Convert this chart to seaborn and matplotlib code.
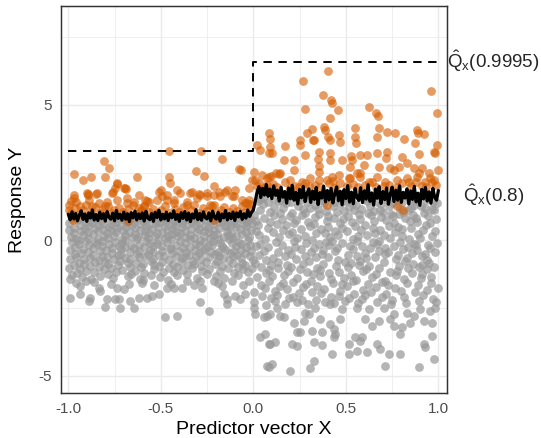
import numpy as np
import pandas as pd
import seaborn as sns
import matplotlib.pyplot as plt

# puntos por debajo del cuantil 0.8 (gris), banda densa x < 0
grey_left = [
    (-0.996, 0.62), (-0.991, -0.35), (-0.985, 0.12), (-0.998, -1.02), (-0.982, 0.81), (-0.989, -0.71), (-0.978, -0.08), (-0.994, 0.38), (-0.980, -1.28),
    (-0.971, 0.45), (-0.966, -0.52), (-0.958, 0.05), (-0.969, -0.91), (-0.955, 0.74), (-0.962, -0.24), (-0.953, -1.21), (-0.967, 0.27), (-0.957, -0.63),
    (-0.946, 0.79), (-0.941, -0.15), (-0.933, 0.33), (-0.944, -0.84), (-0.930, -0.46), (-0.937, 0.58), (-0.928, -1.36), (-0.942, 0.02), (-0.935, -1.05),
    (-0.921, 0.18), (-0.916, -0.69), (-0.908, 0.66), (-0.919, -0.31), (-0.905, -1.12), (-0.912, 0.41), (-0.903, -0.02), (-0.917, -0.87), (-0.910, 0.83),
    (-0.896, -0.43), (-0.891, 0.51), (-0.883, -0.96), (-0.894, 0.09), (-0.880, 0.72), (-0.887, -0.19), (-0.878, -1.44), (-0.892, 0.30), (-0.885, -0.66),
    (-0.871, 0.64), (-0.866, -0.28), (-0.858, -0.81), (-0.869, 0.22), (-0.855, -0.05), (-0.862, -1.17), (-0.853, 0.47), (-0.867, -0.55), (-0.860, 0.85),
    (-0.846, -0.12), (-0.841, 0.35), (-0.833, -0.74), (-0.844, 0.77), (-0.830, -1.31), (-0.837, 0.04), (-0.828, -0.40), (-0.842, 0.56), (-0.835, -0.99),
    (-0.821, 0.70), (-0.816, -0.58), (-0.808, 0.14), (-0.819, -0.23), (-0.805, -1.06), (-0.812, 0.43), (-0.803, -0.79), (-0.817, -0.01), (-0.810, 0.61),
    (-0.796, -0.37), (-0.791, 0.26), (-0.783, -0.89), (-0.794, 0.82), (-0.780, -0.14), (-0.787, -1.25), (-0.778, 0.50), (-0.792, -0.61), (-0.785, 0.08),
    (-0.771, 0.39), (-0.766, -0.47), (-0.758, 0.75), (-0.769, -1.01), (-0.755, 0.16), (-0.762, -0.29), (-0.753, -0.70), (-0.767, 0.59), (-0.760, -1.39),
    (-0.746, -0.08), (-0.741, 0.68), (-0.733, -0.56), (-0.744, 0.29), (-0.730, -0.93), (-0.737, 0.84), (-0.728, -0.21), (-0.742, -1.18), (-0.735, 0.46),
    (-0.721, 0.57), (-0.716, -0.33), (-0.708, 0.03), (-0.719, -0.77), (-0.705, 0.80), (-0.712, -1.09), (-0.703, 0.34), (-0.717, -0.50), (-0.710, -0.11),
    (-0.696, -0.64), (-0.691, 0.21), (-0.683, 0.73), (-0.694, -0.26), (-0.680, -1.33), (-0.687, 0.49), (-0.678, -0.85), (-0.692, 0.00), (-0.685, 0.63),
    (-0.671, 0.31), (-0.666, -0.42), (-0.658, 0.86), (-0.669, -0.97), (-0.655, 0.11), (-0.662, -0.18), (-0.653, 0.55), (-0.667, -0.71), (-0.660, -1.24),
    (-0.646, -0.30), (-0.641, 0.44), (-0.633, -0.83), (-0.644, 0.69), (-0.630, 0.06), (-0.637, -1.14), (-0.628, -0.52), (-0.642, 0.24), (-0.635, 0.78),
    (-0.621, 0.13), (-0.616, -0.61), (-0.608, 0.60), (-0.619, -0.16), (-0.605, -1.00), (-0.612, 0.38), (-0.603, 0.82), (-0.617, -0.38), (-0.610, -1.42),
    (-0.596, 0.71), (-0.591, -0.25), (-0.583, 0.19), (-0.594, -0.88), (-0.580, 0.52), (-0.587, -0.57), (-0.578, -0.04), (-0.592, -1.20), (-0.585, 0.36),
    (-0.571, -0.49), (-0.566, 0.58), (-0.558, -0.10), (-0.569, 0.84), (-0.555, -0.76), (-0.562, 0.27), (-0.553, -1.27), (-0.567, 0.07), (-0.560, -0.35),
    (-0.546, 0.40), (-0.541, -0.68), (-0.533, 0.76), (-0.544, -0.20), (-0.530, 0.15), (-0.537, -1.08), (-0.528, 0.63), (-0.542, -0.44), (-0.535, -0.90),
    (-0.521, -0.13), (-0.516, 0.50), (-0.508, -0.95), (-0.519, 0.25), (-0.505, 0.81), (-0.512, -0.53), (-0.503, -1.35), (-0.517, 0.01), (-0.510, 0.67),
    (-0.496, 0.28), (-0.491, -0.39), (-0.483, 0.85), (-0.494, -0.79), (-0.480, 0.10), (-0.487, -1.16), (-0.478, 0.54), (-0.492, -0.22), (-0.485, -0.60),
    (-0.471, 0.66), (-0.466, -0.06), (-0.458, -0.72), (-0.469, 0.37), (-0.455, -1.04), (-0.462, 0.17), (-0.453, -0.32), (-0.467, 0.79), (-0.460, -1.47),
    (-0.446, -0.27), (-0.441, 0.42), (-0.433, -0.86), (-0.444, 0.04), (-0.430, 0.72), (-0.437, -0.46), (-0.428, -1.19), (-0.442, 0.23), (-0.435, 0.59),
    (-0.421, 0.52), (-0.416, -0.59), (-0.408, 0.14), (-0.419, -0.17), (-0.405, 0.83), (-0.412, -0.98), (-0.403, -0.40), (-0.417, 0.32), (-0.410, -1.30),
    (-0.396, -0.03), (-0.391, 0.74), (-0.383, -0.66), (-0.394, 0.26), (-0.380, -1.10), (-0.387, 0.48), (-0.378, -0.29), (-0.392, -0.82), (-0.385, 0.65),
    (-0.371, 0.35), (-0.366, -0.45), (-0.358, 0.80), (-0.369, -0.09), (-0.355, -0.92), (-0.362, 0.12), (-0.353, 0.61), (-0.367, -0.63), (-0.360, -1.23),
    (-0.346, -0.54), (-0.341, 0.20), (-0.333, 0.69), (-0.344, -0.24), (-0.330, -1.02), (-0.337, 0.43), (-0.328, -0.75), (-0.342, 0.05), (-0.335, 0.84),
    (-0.321, 0.09), (-0.316, -0.36), (-0.308, 0.57), (-0.319, -0.87), (-0.305, 0.30), (-0.312, -0.14), (-0.303, -1.40), (-0.317, 0.77), (-0.310, -0.58),
    (-0.296, 0.63), (-0.291, -0.19), (-0.283, -0.70), (-0.294, 0.40), (-0.280, -1.13), (-0.287, 0.02), (-0.278, 0.82), (-0.292, -0.48), (-0.285, -0.95),
    (-0.271, -0.41), (-0.266, 0.33), (-0.258, 0.75), (-0.269, -0.07), (-0.255, -0.80), (-0.262, 0.53), (-0.253, -1.26), (-0.267, 0.16), (-0.260, -0.31),
    (-0.246, 0.47), (-0.241, -0.62), (-0.233, 0.08), (-0.244, -0.23), (-0.230, 0.71), (-0.237, -1.07), (-0.228, -0.44), (-0.242, 0.29), (-0.235, 0.86),
    (-0.221, -0.16), (-0.216, 0.60), (-0.208, -0.89), (-0.219, 0.19), (-0.205, -0.51), (-0.212, 0.81), (-0.203, -1.33), (-0.217, -0.04), (-0.210, 0.39),
    (-0.196, 0.24), (-0.191, -0.43), (-0.183, 0.67), (-0.194, -0.78), (-0.180, -0.11), (-0.187, 0.45), (-0.178, -1.15), (-0.192, 0.03), (-0.185, -0.57),
    (-0.171, 0.70), (-0.166, -0.28), (-0.158, 0.13), (-0.169, -0.96), (-0.155, 0.54), (-0.162, -0.65), (-0.153, 0.85), (-0.167, -0.20), (-0.160, -1.38),
    (-0.146, -0.35), (-0.141, 0.36), (-0.133, -0.74), (-0.144, 0.79), (-0.130, 0.06), (-0.137, -1.03), (-0.128, -0.47), (-0.142, 0.51), (-0.135, 0.18),
    (-0.121, 0.58), (-0.116, -0.10), (-0.108, -0.83), (-0.119, 0.27), (-0.105, -0.38), (-0.112, 0.73), (-0.103, -1.21), (-0.117, 0.10), (-0.110, -0.60),
    (-0.096, -0.22), (-0.091, 0.49), (-0.083, -0.99), (-0.094, 0.15), (-0.080, 0.83), (-0.087, -0.53), (-0.078, -0.05), (-0.092, 0.64), (-0.085, -1.29),
    (-0.071, 0.41), (-0.066, -0.67), (-0.058, 0.78), (-0.069, -0.13), (-0.055, -1.06), (-0.062, 0.22), (-0.053, 0.60), (-0.067, -0.37), (-0.060, -0.84),
    (-0.046, -0.48), (-0.041, 0.32), (-0.033, 0.69), (-0.044, -0.90), (-0.030, 0.00), (-0.037, -0.26), (-0.028, -1.18), (-0.042, 0.52), (-0.035, 0.84),
    (-0.021, 0.11), (-0.016, -0.58), (-0.008, 0.63), (-0.019, -0.19), (-0.005, -1.01), (-0.012, 0.37), (-0.003, -0.72), (-0.017, 0.80), (-0.010, -0.41),
]

# valores aislados por debajo de la banda, x < 0
grey_left_tail = [
    (-0.989, -1.44), (-0.989, -2.12), (-0.935, -1.69), (-0.935, -1.99), (-0.881, -2.12), (-0.890, -2.24), (-0.836, -1.75),
    (-0.827, -1.87), (-0.791, -2.18), (-0.800, -2.45), (-0.746, -2.18), (-0.728, -2.18), (-0.737, -1.75), (-0.719, -2.49),
    (-0.701, -1.81), (-0.674, -1.63), (-0.665, -2.24), (-0.647, -2.49), (-0.620, -2.12), (-0.575, -2.12), (-0.548, -2.06),
    (-0.512, -2.00), (-0.476, -2.85), (-0.467, -1.75), (-0.431, -1.75), (-0.413, -2.79), (-0.385, -1.75), (-0.358, -1.51),
    (-0.286, -2.30), (-0.286, -1.51), (-0.277, -1.75), (-0.241, -2.61), (-0.215, -1.51), (-0.169, -1.69), (-0.161, -2.00),
    (-0.142, -2.18), (-0.142, -2.36), (-0.115, -1.51), (-0.097, -2.06), (-0.070, -2.18), (-0.043, -2.00), (-0.025, -1.51),
    (-0.958, -1.58), (-0.862, -1.55), (-0.771, -1.62), (-0.603, -1.57), (-0.536, -1.66), (-0.447, -1.60), (-0.318, -1.64),
    (-0.192, -1.57), (-0.058, -1.66), (-0.596, -1.48), (-0.905, -1.52),
]

# banda densa x > 0
grey_right = [
    (0.004, 0.92), (0.009, -0.83), (0.017, 0.36), (0.006, -1.92), (0.024, 1.44), (0.012, -0.21), (0.021, -1.37), (0.015, 0.71), (0.003, -2.28),
    (0.029, -0.55), (0.034, 1.12), (0.041, -1.64), (0.031, 0.18), (0.046, -2.05), (0.038, 1.51), (0.044, -0.97), (0.027, 0.55), (0.036, -0.12),
    (0.054, 1.33), (0.059, -0.38), (0.066, -1.21), (0.056, 0.84), (0.071, -2.39), (0.063, 0.05), (0.069, -0.74), (0.052, 1.57), (0.061, -1.78),
    (0.079, 0.47), (0.084, -1.49), (0.091, 1.06), (0.081, -0.26), (0.096, -2.12), (0.088, 0.69), (0.094, -0.90), (0.077, 1.41), (0.086, -1.10),
    (0.104, -0.66), (0.109, 1.24), (0.116, -1.87), (0.106, 0.29), (0.121, -0.07), (0.113, 0.95), (0.119, -2.26), (0.102, -1.31), (0.111, 1.53),
    (0.129, 0.61), (0.134, -1.03), (0.141, 1.45), (0.131, -0.44), (0.146, -1.70), (0.138, 0.13), (0.144, 1.01), (0.127, -2.02), (0.136, -0.81),
    (0.154, -0.17), (0.159, 1.19), (0.166, -1.28), (0.156, 0.79), (0.171, -2.34), (0.163, 0.38), (0.169, -0.60), (0.152, 1.50), (0.161, -1.59),
    (0.179, 1.36), (0.184, -0.93), (0.191, 0.22), (0.181, -1.81), (0.196, 0.88), (0.188, -0.35), (0.194, -2.15), (0.177, 0.57), (0.186, -1.14),
    (0.204, -0.49), (0.209, 0.99), (0.216, -1.56), (0.206, 1.42), (0.221, -0.03), (0.213, -2.08), (0.219, 0.64), (0.202, -1.00), (0.211, 0.31),
    (0.229, 0.74), (0.234, -1.39), (0.241, 1.28), (0.231, -0.70), (0.246, -1.95), (0.238, 0.09), (0.244, 1.55), (0.227, -0.24), (0.236, -2.30),
    (0.254, -1.06), (0.259, 0.43), (0.266, 1.14), (0.256, -0.31), (0.271, -1.74), (0.263, 0.93), (0.269, -0.86), (0.252, 1.47), (0.261, -2.19),
    (0.279, 0.16), (0.284, -1.62), (0.291, 1.40), (0.281, -0.58), (0.296, 0.67), (0.288, -1.17), (0.294, -2.37), (0.277, 1.02), (0.286, -0.09),
    (0.304, 1.18), (0.309, -0.45), (0.316, -1.91), (0.306, 0.52), (0.321, -1.26), (0.313, 1.52), (0.319, 0.02), (0.302, -0.77), (0.311, -1.52),
    (0.329, -0.28), (0.334, 0.86), (0.341, -2.22), (0.331, 1.31), (0.346, -1.01), (0.338, 0.25), (0.344, -1.68), (0.327, 0.60), (0.336, -0.63),
    (0.354, 0.97), (0.359, -1.33), (0.366, 0.40), (0.356, -0.15), (0.371, 1.49), (0.363, -1.96), (0.369, -0.52), (0.352, 1.16), (0.361, -1.11),
    (0.379, -0.88), (0.384, 1.37), (0.391, -0.05), (0.381, -1.80), (0.396, 0.72), (0.388, -2.27), (0.394, 1.09), (0.377, -0.36), (0.386, 0.28),
    (0.404, 0.50), (0.409, -1.22), (0.416, 1.56), (0.406, -0.61), (0.421, -2.10), (0.413, 0.11), (0.419, -1.44), (0.402, 0.90), (0.411, -0.19),
    (0.429, -1.57), (0.434, 0.81), (0.441, -0.40), (0.431, 1.25), (0.446, -0.96), (0.438, -2.33), (0.444, 0.35), (0.427, -0.02), (0.436, 1.43),
    (0.454, 1.03), (0.459, -0.72), (0.466, -1.86), (0.456, 0.20), (0.471, 1.35), (0.463, -1.19), (0.469, 0.63), (0.452, -0.29), (0.461, -2.06),
    (0.479, -0.11), (0.484, 1.50), (0.491, -1.41), (0.481, 0.46), (0.496, -0.80), (0.488, 1.07), (0.494, -2.25), (0.477, -1.63), (0.486, 0.77),
    (0.504, 0.33), (0.509, -0.99), (0.516, 1.22), (0.506, -1.70), (0.521, -0.23), (0.513, 0.89), (0.519, -2.14), (0.502, 1.46), (0.511, -0.54),
    (0.529, -1.29), (0.534, 0.66), (0.541, -0.34), (0.531, 1.39), (0.546, -1.99), (0.538, 0.04), (0.544, 1.13), (0.527, -0.85), (0.536, -1.51),
    (0.554, 1.30), (0.559, -0.57), (0.566, 0.14), (0.556, -1.46), (0.571, 0.98), (0.563, -2.32), (0.569, -0.91), (0.552, 0.54), (0.561, -0.04),
    (0.579, -0.76), (0.584, 1.17), (0.591, -1.83), (0.581, 0.39), (0.596, 1.54), (0.588, -0.20), (0.594, -1.15), (0.577, 0.80), (0.586, -2.18),
    (0.604, 0.58), (0.609, -1.08), (0.616, 1.44), (0.606, -0.47), (0.621, -1.61), (0.613, 0.19), (0.619, 1.01), (0.602, -2.03), (0.611, -0.66),
    (0.629, -0.30), (0.634, 0.94), (0.641, -1.37), (0.631, 1.27), (0.646, -0.08), (0.638, -1.90), (0.644, 0.47), (0.627, -0.95), (0.636, 1.52),
    (0.654, 1.09), (0.659, -0.62), (0.666, -2.28), (0.656, 0.26), (0.671, 1.40), (0.663, -1.24), (0.669, -0.13), (0.652, 0.70), (0.661, -1.73),
    (0.679, -1.02), (0.684, 0.37), (0.691, 1.33), (0.681, -0.39), (0.696, -1.54), (0.688, 0.85), (0.694, -2.09), (0.677, -0.01), (0.686, 1.12),
    (0.704, 0.21), (0.709, -1.49), (0.716, 0.76), (0.706, -0.82), (0.721, 1.47), (0.713, -0.27), (0.719, -1.97), (0.702, 1.05), (0.711, -0.50),
    (0.729, -0.42), (0.734, 1.26), (0.741, -1.18), (0.731, 0.53), (0.746, -2.36), (0.738, 0.07), (0.744, 0.96), (0.727, -1.66), (0.736, 1.55),
    (0.754, 0.88), (0.759, -0.20), (0.766, -1.77), (0.756, 1.36), (0.771, -0.69), (0.763, 0.30), (0.769, -1.30), (0.752, -2.20), (0.761, 0.62),
    (0.779, -1.12), (0.784, 0.49), (0.791, 1.20), (0.781, -0.55), (0.796, -1.88), (0.788, 0.98), (0.794, -0.06), (0.777, 1.48), (0.786, -0.94),
    (0.804, 1.41), (0.809, -0.33), (0.816, -1.45), (0.806, 0.15), (0.821, 0.83), (0.813, -2.11), (0.819, -0.78), (0.802, 0.42), (0.811, 1.06),
    (0.829, -0.64), (0.834, 1.13), (0.841, 0.03), (0.831, -1.58), (0.846, 0.71), (0.838, -1.03), (0.844, 1.53), (0.827, -2.31), (0.836, -0.25),
    (0.854, 0.44), (0.859, -1.20), (0.866, 1.32), (0.856, -0.46), (0.871, -1.93), (0.863, 0.92), (0.869, -0.14), (0.852, 1.19), (0.861, -0.88),
    (0.879, -0.18), (0.884, 0.67), (0.891, -1.67), (0.881, 1.46), (0.896, -0.99), (0.888, 0.24), (0.894, -2.24), (0.877, 0.82), (0.886, -0.37),
    (0.904, 1.27), (0.909, -0.91), (0.916, 0.38), (0.906, -1.41), (0.921, 1.00), (0.913, -0.59), (0.919, -2.01), (0.902, 0.10), (0.911, -1.25),
    (0.929, -0.51), (0.934, 1.50), (0.941, -1.08), (0.931, 0.56), (0.946, -0.16), (0.938, -1.84), (0.944, 0.89), (0.927, 1.21), (0.936, -0.73),
    (0.954, 0.65), (0.959, -1.35), (0.966, 1.16), (0.956, -0.28), (0.971, -2.17), (0.963, 0.17), (0.969, 1.42), (0.952, -0.84), (0.961, -1.59),
    (0.979, -0.97), (0.984, 0.34), (0.991, 1.38), (0.981, -0.43), (0.996, -1.76), (0.988, 0.79), (0.994, -0.10), (0.977, 1.11), (0.986, -2.29),
]

grey_right_tail = [
    (0.002, -2.49), (0.010, -2.73), (0.038, -3.59), (0.065, -3.47), (0.083, -3.83), (0.074, -4.63), (0.074, -2.79),
    (0.056, -2.85), (0.092, -3.83), (0.119, -3.77), (0.083, -4.69), (0.101, -4.57), (0.146, -2.79), (0.164, -2.85),
    (0.200, -4.85), (0.209, -3.83), (0.236, -3.90), (0.218, -3.04), (0.236, -3.40), (0.254, -3.40), (0.272, -2.98),
    (0.299, -2.73), (0.317, -3.35), (0.326, -3.77), (0.326, -4.45), (0.308, -4.73), (0.371, -3.40), (0.371, -3.87),
    (0.362, -2.92), (0.416, -3.10), (0.425, -4.20), (0.434, -3.28), (0.443, -3.47), (0.434, -3.59), (0.470, -2.92),
    (0.515, -3.83), (0.515, -4.20), (0.551, -3.59), (0.561, -4.08), (0.588, -3.59), (0.578, -3.71), (0.615, -4.12),
    (0.605, -2.92), (0.642, -3.16), (0.677, -2.98), (0.669, -3.83), (0.686, -4.02), (0.714, -4.63), (0.731, -4.20),
    (0.741, -2.92), (0.758, -3.16), (0.795, -4.20), (0.804, -3.22), (0.795, -3.47), (0.849, -3.04), (0.867, -2.79),
    (0.894, -4.69), (0.921, -3.83), (0.930, -3.96), (0.921, -2.98), (0.966, -3.53), (0.966, -3.04), (0.975, -4.39),
    (0.984, -2.49), (0.957, -2.61), (0.903, -2.55), (0.831, -2.67), (0.758, -2.73), (0.704, -2.49), (0.623, -2.55),
    (0.561, -2.49), (0.479, -2.55), (0.416, -2.36), (0.335, -2.49), (0.281, -2.67), (0.092, -2.73), (0.128, -2.52),
]

# puntos por encima del cuantil 0.8 (naranja)
orange_left = [
    (-0.458, 3.31), (-0.281, 3.31), (-0.169, 2.99), (-0.805, 2.94), (-0.778, 2.68), (-0.968, 2.44), (-0.923, 2.23),
    (-0.877, 2.35), (-0.800, 2.35), (-0.629, 2.33), (-0.458, 2.35), (-0.449, 2.11), (-0.308, 2.57), (-0.265, 2.38),
    (-0.076, 2.62), (-0.068, 2.60), (-0.215, 2.01), (-0.737, 2.07), (-0.692, 1.94), (-0.686, 1.90), (-0.895, 1.72),
    (-0.892, 1.66), (-0.971, 1.57), (-0.985, 1.45), (-0.845, 1.76), (-0.764, 1.74), (-0.746, 1.93), (-0.683, 1.37),
    (-0.584, 1.47), (-0.575, 1.44), (-0.508, 1.80), (-0.494, 1.62), (-0.395, 1.74), (-0.467, 1.50), (-0.431, 1.50),
    (-0.341, 1.74), (-0.296, 1.71), (-0.287, 1.66), (-0.250, 1.62), (-0.215, 1.68), (-0.188, 1.80), (-0.142, 1.86),
    (-0.106, 1.62), (-0.022, 1.50), (-0.018, 1.35), (-0.043, 1.37), (-0.232, 1.31), (-0.358, 1.31), (-0.620, 1.19),
    (-0.606, 1.12), (-0.800, 1.25), (-0.737, 1.50), (-0.935, 1.25), (-0.998, 1.31), (-0.971, 1.68), (-0.957, 1.43),
    (-0.995, 1.13), (-0.899, 1.74), (-0.890, 1.50), (-0.852, 1.70), (-0.872, 1.25), (-0.836, 1.37), (-0.791, 1.43),
    (-0.758, 1.80), (-0.737, 2.11), (-0.701, 1.93), (-0.683, 1.56), (-0.647, 1.43), (-0.620, 1.68), (-0.593, 1.25),
    (-0.566, 1.43), (-0.521, 1.50), (-0.501, 1.84), (-0.467, 1.68), (-0.431, 1.37), (-0.413, 1.86), (-0.358, 1.43),
    (-0.334, 1.78), (-0.304, 1.56), (-0.250, 1.74), (-0.215, 1.31), (-0.178, 1.62), (-0.151, 1.80), (-0.115, 1.62),
    (-0.097, 1.86), (-0.061, 1.50), (-0.034, 1.37), (-0.007, 2.23), (-0.025, 1.93),
    (-0.985, 1.02), (-0.962, 1.18), (-0.941, 0.98), (-0.918, 1.12), (-0.903, 1.31), (-0.877, 1.05), (-0.858, 1.22),
    (-0.829, 1.01), (-0.812, 1.15), (-0.788, 1.28), (-0.771, 0.99), (-0.752, 1.10), (-0.724, 1.21), (-0.706, 1.03),
    (-0.675, 1.14), (-0.651, 1.30), (-0.633, 0.98), (-0.608, 1.09), (-0.589, 1.26), (-0.563, 1.04), (-0.541, 1.17),
    (-0.522, 0.99), (-0.497, 1.12), (-0.476, 1.28), (-0.455, 1.02), (-0.426, 1.15), (-0.402, 1.06), (-0.381, 1.24),
    (-0.364, 0.98), (-0.337, 1.13), (-0.318, 1.32), (-0.293, 1.01), (-0.271, 1.19), (-0.248, 1.07), (-0.226, 1.27),
    (-0.197, 1.00), (-0.174, 1.13), (-0.156, 1.24), (-0.131, 1.03), (-0.112, 1.18), (-0.089, 1.09), (-0.063, 1.26),
    (-0.047, 1.05), (-0.018, 1.16), (-0.975, 0.74), (-0.680, 0.72), (-0.215, 0.75),
]

orange_right = [
    (0.402, 6.24), (0.266, 5.87), (0.962, 5.51), (0.377, 5.38), (0.419, 5.17), (0.424, 5.07), (0.281, 4.84),
    (0.456, 4.83), (0.627, 4.93), (0.665, 4.70), (0.676, 4.60), (0.993, 4.71), (0.416, 4.50), (0.317, 4.13),
    (0.381, 4.19), (0.387, 4.08), (0.551, 4.15), (0.677, 4.15), (0.723, 3.99), (0.887, 4.08), (0.892, 3.95),
    (0.921, 3.91), (0.768, 3.97), (0.254, 3.70), (0.254, 3.52), (0.290, 3.95), (0.321, 3.70), (0.329, 3.70),
    (0.404, 3.82), (0.414, 3.70), (0.461, 3.89), (0.470, 3.64), (0.551, 3.82), (0.556, 3.58), (0.669, 3.82),
    (0.813, 3.76), (0.876, 3.58), (0.084, 3.95), (0.090, 3.76), (0.092, 3.46), (0.020, 3.52), (0.038, 3.33),
    (0.083, 3.24), (0.101, 3.21), (0.173, 3.49), (0.218, 2.97), (0.281, 3.15), (0.353, 3.27), (0.416, 3.21),
    (0.528, 3.11), (0.533, 2.97), (0.578, 3.15), (0.615, 3.15), (0.669, 3.21), (0.723, 3.27), (0.804, 3.09),
    (0.894, 3.18), (0.975, 3.28), (0.992, 3.52), (0.984, 3.21), (0.164, 2.97), (0.351, 2.99), (0.357, 2.74),
    (0.416, 2.97), (0.479, 2.97), (0.524, 2.72), (0.561, 2.48), (0.596, 2.78), (0.677, 2.72), (0.718, 3.05),
    (0.741, 2.66), (0.786, 2.72), (0.831, 2.85), (0.867, 2.66), (0.912, 2.66), (0.948, 2.48), (0.998, 2.60),
    (0.141, 2.45), (0.124, 2.50), (0.200, 2.23), (0.072, 2.30), (0.085, 2.35), (0.010, 2.23), (0.047, 2.42),
    (0.263, 2.17), (0.308, 2.29), (0.353, 2.23), (0.398, 2.23), (0.425, 2.35), (0.461, 2.42), (0.515, 2.29),
    (0.578, 2.35), (0.623, 2.17), (0.669, 2.35), (0.714, 2.17), (0.777, 2.23), (0.839, 2.17), (0.885, 2.35),
    (0.930, 2.17), (0.975, 2.23), (0.002, 2.54), (0.097, 2.38), (0.146, 2.48), (0.218, 2.60), (0.353, 2.54),
    (0.430, 2.20), (0.520, 2.31), (0.578, 2.48), (0.758, 2.60), (0.831, 2.29), (0.894, 2.48), (0.957, 2.29),
    (0.020, 1.99), (0.074, 2.05), (0.200, 1.93), (0.299, 1.99), (0.407, 2.11), (0.506, 1.99), (0.605, 2.05),
    (0.704, 1.99), (0.804, 2.11), (0.912, 1.99), (0.966, 2.17), (0.398, 1.31), (0.777, 1.25), (0.810, 1.13),
    (0.032, 2.12), (0.061, 1.98), (0.105, 2.08), (0.129, 1.95), (0.171, 2.15), (0.226, 2.02), (0.248, 1.96),
    (0.277, 2.10), (0.333, 2.06), (0.362, 1.97), (0.443, 1.94), (0.467, 2.13), (0.538, 2.08), (0.566, 1.96),
    (0.641, 2.14), (0.662, 1.97), (0.731, 2.06), (0.779, 1.95), (0.852, 2.01), (0.878, 2.16), (0.933, 1.98),
    (0.987, 2.04),
]

# cuantil estimado 0.8
q08_x = [
    -1.00, -0.99, -0.98, -0.97, -0.96, -0.95, -0.94, -0.93, -0.92, -0.91,
    -0.90, -0.89, -0.88, -0.87, -0.86, -0.85, -0.84, -0.83, -0.82, -0.81,
    -0.80, -0.79, -0.78, -0.77, -0.76, -0.75, -0.74, -0.73, -0.72, -0.71,
    -0.70, -0.69, -0.68, -0.67, -0.66, -0.65, -0.64, -0.63, -0.62, -0.61,
    -0.60, -0.59, -0.58, -0.57, -0.56, -0.55, -0.54, -0.53, -0.52, -0.51,
    -0.50, -0.49, -0.48, -0.47, -0.46, -0.45, -0.44, -0.43, -0.42, -0.41,
    -0.40, -0.39, -0.38, -0.37, -0.36, -0.35, -0.34, -0.33, -0.32, -0.31,
    -0.30, -0.29, -0.28, -0.27, -0.26, -0.25, -0.24, -0.23, -0.22, -0.21,
    -0.20, -0.19, -0.18, -0.17, -0.16, -0.15, -0.14, -0.13, -0.12, -0.11,
    -0.10, -0.09, -0.08, -0.07, -0.06, -0.05, -0.04, -0.03, -0.02, -0.01,
    0.00, 0.01, 0.02,
    0.03, 0.04, 0.05, 0.06, 0.07, 0.08, 0.09, 0.10, 0.11, 0.12,
    0.13, 0.14, 0.15, 0.16, 0.17, 0.18, 0.19, 0.20, 0.21, 0.22,
    0.23, 0.24, 0.25, 0.26, 0.27, 0.28, 0.29, 0.30, 0.31, 0.32,
    0.33, 0.34, 0.35, 0.36, 0.37, 0.38, 0.39, 0.40, 0.41, 0.42,
    0.43, 0.44, 0.45, 0.46, 0.47, 0.48, 0.49, 0.50, 0.51, 0.52,
    0.53, 0.54, 0.55, 0.56, 0.57, 0.58, 0.59, 0.60, 0.61, 0.62,
    0.63, 0.64, 0.65, 0.66, 0.67, 0.68, 0.69, 0.70, 0.71, 0.72,
    0.73, 0.74, 0.75, 0.76, 0.77, 0.78, 0.79, 0.80, 0.81, 0.82,
    0.83, 0.84, 0.85, 0.86, 0.87, 0.88, 0.89, 0.90, 0.91, 0.92,
    0.93, 0.94, 0.95, 0.96, 0.97, 0.98, 0.99, 1.00,
]
q08_y = [
    0.96, 0.76, 1.05, 0.79, 0.99, 0.72, 0.93, 1.09, 0.77, 0.97,
    0.70, 1.01, 0.82, 1.12, 0.75, 0.95, 0.73, 1.04, 0.80, 0.98,
    0.71, 1.06, 0.85, 0.78, 1.00, 0.72, 1.10, 0.81, 0.96, 0.74,
    1.04, 0.78, 0.98, 0.69, 1.02, 0.83, 1.08, 0.75, 0.97, 0.80,
    1.01, 0.71, 1.07, 0.82, 0.76, 0.99, 0.70, 1.03, 0.84, 1.11,
    0.75, 0.96, 0.79, 1.04, 0.73, 0.98, 0.83, 1.09, 0.77, 0.95,
    0.70, 1.02, 0.81, 1.06, 0.75, 1.00, 0.69, 0.97, 0.82, 1.13,
    0.76, 0.99, 0.74, 1.05, 0.84, 0.79, 1.01, 0.72, 1.08, 0.85,
    0.78, 1.03, 0.71, 0.97, 0.83, 1.10, 0.75, 0.99, 0.80, 1.04,
    0.73, 1.01, 0.86, 1.07, 0.77, 0.98, 0.82, 1.12, 0.88, 1.03,
    1.12, 1.42, 1.78,
    1.98, 1.58, 1.92, 1.67, 2.06, 1.62, 1.89, 1.54, 2.01, 1.66,
    1.85, 1.45, 1.96, 1.59, 1.80, 1.37, 1.93, 1.53, 2.03, 1.48,
    1.77, 1.34, 1.88, 1.57, 1.99, 1.43, 1.73, 1.90, 1.40, 1.82,
    1.51, 1.95, 1.32, 1.76, 1.56, 2.00, 1.42, 1.84, 1.49, 1.92,
    1.38, 1.71, 1.97, 1.46, 1.81, 1.31, 1.87, 1.54, 2.02, 1.41,
    1.78, 1.35, 1.91, 1.58, 1.47, 1.94, 1.39, 1.83, 1.52, 2.05,
    1.44, 1.75, 1.30, 1.89, 1.55, 1.98, 1.36, 1.80, 1.50, 1.93,
    1.33, 1.72, 1.96, 1.43, 1.85, 1.48, 2.01, 1.40, 1.77, 1.56,
    1.90, 1.34, 1.82, 1.51, 1.99, 1.42, 1.74, 1.29, 1.88, 1.53,
    1.95, 1.45, 1.79, 1.37, 1.92, 1.59, 1.48, 1.84,
]

# cuantil estimado 0.9995 (escalón)
q9995_x = [-1.0, 0.0, 1.0]
q9995_y = [3.3, 6.6, 6.6]

x_ticks = [-1.0, -0.5, 0.0, 0.5, 1.0]
x_tick_labels = ['-1.0', '-0.5', '0.0', '0.5', '1.0']
y_ticks = [-5, 0, 5]
y_tick_labels = ['-5', '0', '5']

label_high = r'$\hat{\mathrm{Q}}_{\mathrm{x}}$(0.9995)'
label_low = r'$\hat{\mathrm{Q}}_{\mathrm{x}}$(0.8)'

sns.set_theme(style='white')
plt.rcParams['font.family'] = ['Liberation Sans', 'DejaVu Sans']
plt.rcParams['mathtext.fontset'] = 'custom'
plt.rcParams['mathtext.rm'] = 'Liberation Sans'
plt.rcParams['mathtext.it'] = 'Liberation Sans:italic'
plt.rcParams['axes.unicode_minus'] = False

grey_pts = pd.DataFrame(grey_left + grey_left_tail + grey_right + grey_right_tail, columns=['x', 'y'])
orange_pts = pd.DataFrame(orange_left + orange_right, columns=['x', 'y'])

fig = plt.figure(figsize=(5.41, 4.38), dpi=100)
ax = fig.add_axes([0.1122, 0.1020, 0.7135, 0.8842])

sns.scatterplot(data=grey_pts, x='x', y='y', color='#999999', s=40, alpha=0.72,
                linewidth=0, legend=False, ax=ax, zorder=3)
sns.scatterplot(data=orange_pts, x='x', y='y', color='#D55E00', s=40, alpha=0.62,
                linewidth=0, legend=False, ax=ax, zorder=3)
sns.lineplot(x=q08_x, y=q08_y, color='black', linewidth=2.3, ax=ax, zorder=4)
ax.step(q9995_x, q9995_y, where='post', color='black', linewidth=1.4,
        linestyle=(0, (4.3, 3.4)), zorder=5)

ax.set_xlim(-1.041, 1.045)
ax.set_ylim(-5.657, 8.656)
ax.set_xticks(x_ticks)
ax.set_xticklabels(x_tick_labels)
ax.set_yticks(y_ticks)
ax.set_yticklabels(y_tick_labels)
ax.set_xticks([-0.75, -0.25, 0.25, 0.75], minor=True)
ax.set_yticks([-2.5, 2.5, 7.5], minor=True)
ax.grid(which='major', color='#EBEBEB', linewidth=1.07, zorder=0)
ax.grid(which='minor', color='#EBEBEB', linewidth=0.55, zorder=0)
ax.set_axisbelow(True)
ax.tick_params(which='both', length=0)
ax.tick_params(axis='x', pad=6.5, labelsize=11, labelcolor='#4D4D4D')
ax.tick_params(axis='y', pad=6.5, labelsize=11, labelcolor='#4D4D4D')
for sp in ax.spines.values():
    sp.set_color('#333333')
    sp.set_linewidth(1.07)

ax.set_xlabel('Predictor vector X', fontsize=14, labelpad=3, color='black')
ax.set_ylabel('Response Y', fontsize=14, labelpad=9, color='black')

ax.text(1.049, 6.62, label_high, ha='left', va='center', fontsize=13.5, clip_on=False)
ax.text(1.135, 1.68, label_low, ha='left', va='center', fontsize=13.5, clip_on=False)

fig.savefig('out.png', dpi=100)
